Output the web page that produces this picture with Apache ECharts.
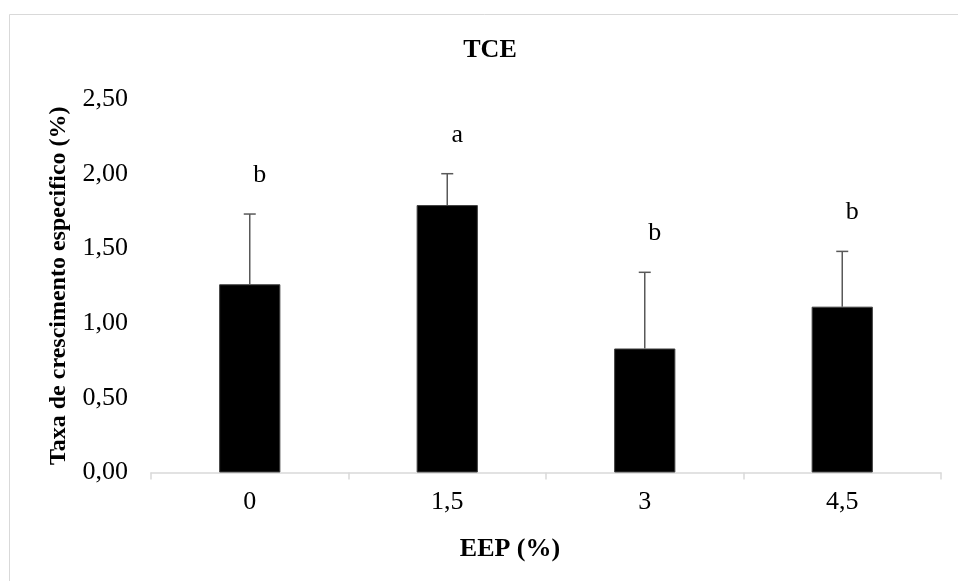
<!DOCTYPE html>
<html>
<head>
<meta charset="utf-8">
<script src="https://cdn.jsdelivr.net/npm/echarts@6/dist/echarts.min.js"></script>
<style>html,body{margin:0;padding:0;background:#fff}#c{width:958px;height:581px}</style>
</head>
<body>
<div id="c"></div>
<script>
var categories = ['0', '1,5', '3', '4,5'];
var means = [1.26, 1.79, 0.83, 1.11];
var errors = [0.47, 0.21, 0.51, 0.37];
var letters = ['b', 'a', 'b', 'b'];
var yTicks = [0, 0.5, 1, 1.5, 2, 2.5];

var FONT = '"Liberation Serif", "Times New Roman", serif';
var chart = echarts.init(document.getElementById('c'));

var errData = means.map(function (m, i) { return [i, m, m + errors[i]]; });

chart.setOption({
  animation: false,
  backgroundColor: '#fff',
  graphic: [
    { type: 'rect', shape: { x: 9.5, y: 14.5, width: 960, height: 600 }, style: { fill: 'none', stroke: '#d9d9d9', lineWidth: 1 }, silent: true },
    { type: 'text', x: 490, y: 50, style: { text: 'TCE', font: 'bold 26px ' + FONT, fill: '#000', align: 'center', verticalAlign: 'middle' } },
    { type: 'text', x: 510, y: 549, style: { text: 'EEP (%)', font: 'bold 26px ' + FONT, fill: '#000', align: 'center', verticalAlign: 'middle' } }
  ],
  grid: { left: 151, right: 17, top: 99, bottom: 108.5, containLabel: false },
  xAxis: {
    type: 'category',
    data: categories,
    axisLine: { show: true, lineStyle: { color: '#d9d9d9', width: 1.5 } },
    axisTick: { show: true, alignWithLabel: false, length: 7, lineStyle: { color: '#d9d9d9', width: 1.5 } },
    axisLabel: { color: '#000', fontFamily: FONT, fontSize: 26, margin: 17 },
    splitLine: { show: false }
  },
  yAxis: {
    type: 'value',
    min: yTicks[0],
    max: yTicks[yTicks.length - 1],
    interval: 0.5,
    name: 'Taxa de crescimento especifico (%)',
    nameLocation: 'middle',
    nameGap: 80,
    nameTextStyle: { color: '#000', fontFamily: FONT, fontSize: 24, fontWeight: 'bold' },
    axisLine: { show: false },
    axisTick: { show: false },
    splitLine: { show: false },
    axisLabel: {
      color: '#000', fontFamily: FONT, fontSize: 26, margin: 23,
      formatter: function (v) { return v.toFixed(2).replace('.', ','); }
    }
  },
  series: [
    {
      type: 'bar',
      data: means,
      barWidth: '31%',
      itemStyle: { color: '#000', borderColor: '#404040', borderWidth: 1 },
      z: 2
    },
    {
      type: 'custom',
      data: errData,
      z: 3,
      renderItem: function (params, api) {
        var i = api.value(0);
        var lo = api.coord([i, api.value(1)]);
        var hi = api.coord([i, api.value(2)]);
        var cap = 6;
        var letter = letters[params.dataIndex];
        return {
          type: 'group',
          children: [
            { type: 'line', shape: { x1: lo[0], y1: lo[1], x2: hi[0], y2: hi[1] }, style: { stroke: '#595959', lineWidth: 1.5 } },
            { type: 'line', shape: { x1: hi[0] - cap, y1: hi[1], x2: hi[0] + cap, y2: hi[1] }, style: { stroke: '#595959', lineWidth: 1.5 } },
            { type: 'text', x: hi[0] + 10, y: hi[1] - 39, style: { text: letter, font: '26px ' + FONT, fill: '#000', align: 'center', verticalAlign: 'middle' } }
          ]
        };
      }
    }
  ]
});
</script>
</body>
</html>
